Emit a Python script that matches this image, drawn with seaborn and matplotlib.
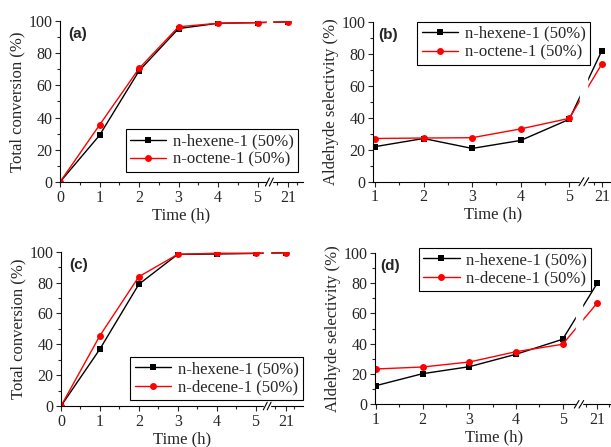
import matplotlib
matplotlib.use("Agg")
import matplotlib.pyplot as plt
import seaborn as sns
import pandas as pd
from matplotlib.ticker import MultipleLocator

# data
time_conv = ["0", "1", "2", "3", "4", "5", "21"]
time_sel = ["1", "2", "3", "4", "5", "21"]

conv_a_hexene = [0, 29, 69, 95.3, 98.6, 99, 99.5]
conv_a_octene = [0, 35.4, 70.5, 96.4, 98.6, 99, 99.5]

sel_b_hexene = [21.9, 27.0, 20.8, 25.8, 39.0, 81.9]
sel_b_octene = [27.0, 27.3, 27.5, 33.0, 39.6, 73.6]

conv_c_hexene = [0, 36.9, 78.9, 98.3, 98.5, 98.9, 99.3]
conv_c_decene = [0, 45.6, 83.8, 98.3, 99.0, 99.0, 99.3]

sel_d_hexene = [12.3, 20.2, 24.8, 33.0, 42.9, 79.8]
sel_d_decene = [23.3, 24.6, 27.9, 34.7, 39.6, 66.8]

sns.set_theme(style="ticks")
plt.rcParams["font.family"] = ["Liberation Serif", "DejaVu Serif"]
plt.rcParams["xtick.direction"] = "out"
plt.rcParams["ytick.direction"] = "out"

fig = plt.figure(figsize=(6.11, 4.47), dpi=100)
W, H = 611.0, 447.0


def make_axes(left, right, top, bottom):
    return fig.add_axes([left / W, 1 - bottom / H, (right - left) / W, (bottom - top) / H])


def panel(ax, labels, s1, s2, name1, name2, pos21, xlim, brk, ylabel, tag, tag_x,
          legend_loc, legend_anchor):
    pos = [float(t) for t in labels[:-1]] + [pos21]
    df = pd.DataFrame({
        "x": pos * 2,
        "y": s1 + s2,
        "series": [name1] * len(pos) + [name2] * len(pos),
    })
    sns.lineplot(data=df, x="x", y="y", hue="series", style="series",
                 palette=["black", "red"], markers=["s", "o"], dashes=False,
                 markersize=5, linewidth=1.0, markeredgewidth=0, ax=ax)
    ax.set_xlim(*xlim)
    ax.set_ylim(0, 100)
    ax.set_xticks(pos)
    ax.set_xticklabels(labels)
    ax.xaxis.set_minor_locator(MultipleLocator(0.5))
    ax.yaxis.set_major_locator(MultipleLocator(20))
    ax.yaxis.set_minor_locator(MultipleLocator(10))
    ax.tick_params(which="major", length=3.5, width=0.8, labelsize=11.5, pad=2)
    ax.tick_params(which="minor", length=2, width=0.8)
    for s in ["top", "right"]:
        ax.spines[s].set_visible(False)
    for s in ["left", "bottom"]:
        ax.spines[s].set_linewidth(0.8)
        ax.spines[s].set_color("black")
    ax.set_xlabel("Time (h)", fontsize=12, labelpad=1)
    ax.set_ylabel(ylabel, fontsize=12, labelpad=2)
    # axis break
    ax.axvspan(brk - 0.07, brk + 0.07, color="white", zorder=4, clip_on=False,
               ymin=-0.02, ymax=1)
    for dx in (-0.05, 0.05):
        ax.plot([brk + dx - 0.05, brk + dx + 0.05], [-2.5, 2.5], color="black",
                lw=0.8, clip_on=False, zorder=5)
    ax.text(tag_x, 0.96, tag, transform=ax.transAxes, fontsize=11, fontweight="bold",
            family="Liberation Sans", va="top", ha="left")
    leg = ax.legend(loc=legend_loc, bbox_to_anchor=legend_anchor, fontsize=12,
                    frameon=True, fancybox=False, edgecolor="black", framealpha=1,
                    handlelength=2.2, borderpad=0.25, labelspacing=0.15,
                    handletextpad=0.4, borderaxespad=0, title=None)
    leg.get_frame().set_linewidth(0.8)
    leg.set_zorder(6)


ax_a = make_axes(60, 303, 21, 182)
panel(ax_a, time_conv, conv_a_hexene, conv_a_octene, "n-hexene-1 (50%)",
      "n-octene-1 (50%)", 5.77, (0, 6.15), 5.3, "Total conversion (%)", "(a)", 0.035,
      "lower right", (0.98, 0.062))

ax_b = make_axes(373, 614, 21.7, 181.7)
panel(ax_b, time_sel, sel_b_hexene, sel_b_octene, "n-hexene-1 (50%)",
      "n-octene-1 (50%)", 5.67, (0.96, 5.92), 5.3, "Aldehyde selectivity (%)", "(b)", 0.02,
      "upper right", (0.90, 1.0))

ax_c = make_axes(61, 303, 251.7, 406)
panel(ax_c, time_conv, conv_c_hexene, conv_c_decene, "n-hexene-1 (50%)",
      "n-decene-1 (50%)", 5.78, (0, 6.22), 5.3, "Total conversion (%)", "(c)", 0.035,
      "lower right", (1.0, 0.04))

ax_d = make_axes(375, 614, 252.7, 404.3)
panel(ax_d, time_sel, sel_d_hexene, sel_d_decene, "n-hexene-1 (50%)",
      "n-decene-1 (50%)", 5.74, (0.98, 6.1), 5.35, "Aldehyde selectivity (%)", "(d)", 0.02,
      "upper right", (0.905, 1.03))

fig.savefig("out.png", dpi=100)
